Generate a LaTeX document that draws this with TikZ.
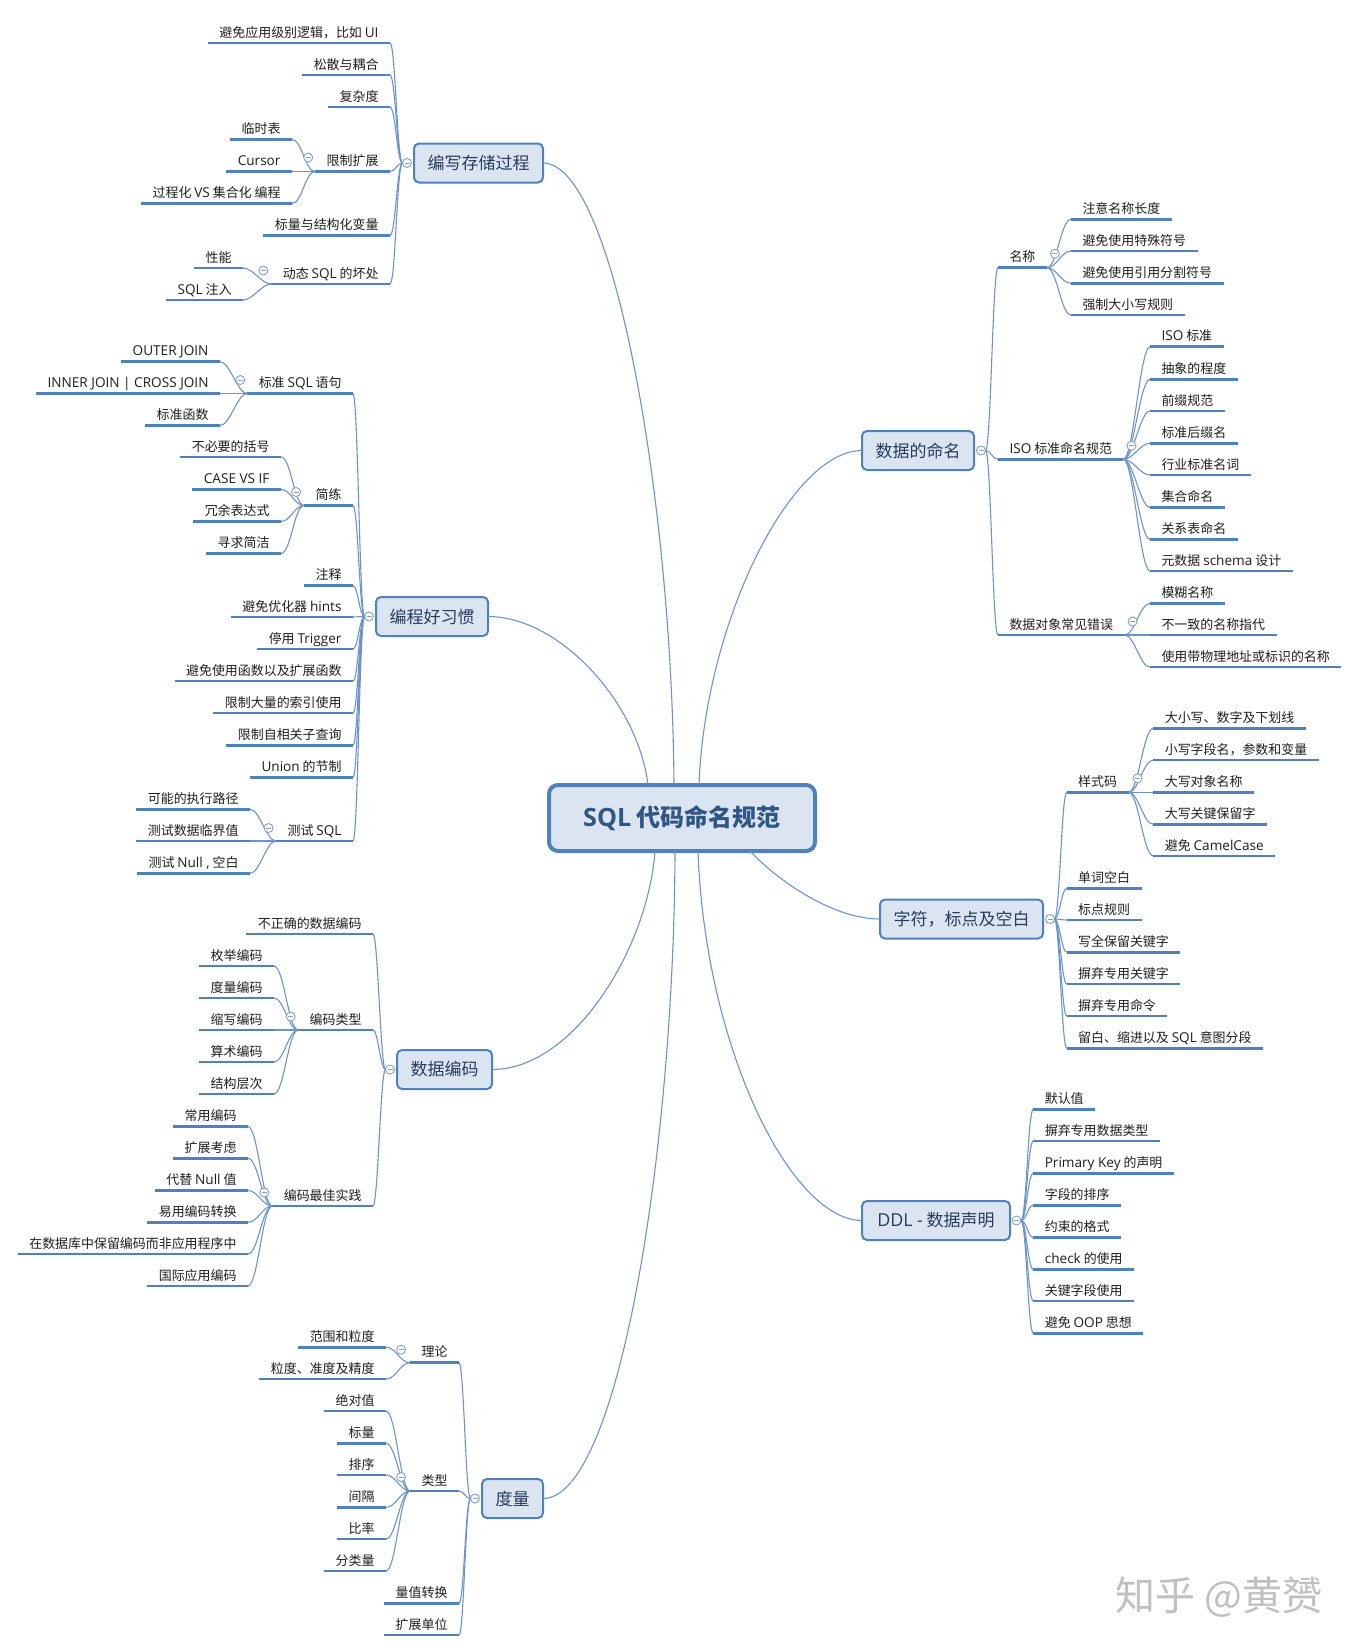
\documentclass[tikz,border=0pt]{standalone}
\usepackage{fontspec}
\setmainfont{Noto Sans CJK SC}
\newfontfamily\lat{Open Sans}[Scale=1.05]
\usetikzlibrary{calc}

\definecolor{lineblue}{RGB}{79,129,189}
\definecolor{connblue}{RGB}{108,148,203}
\definecolor{boxfill}{RGB}{219,229,241}
\definecolor{topictext}{RGB}{40,60,90}
\definecolor{centraltext}{RGB}{48,86,134}
\definecolor{togcol}{RGB}{135,160,200}
\definecolor{subtext}{RGB}{30,30,30}
\definecolor{wmgray}{RGB}{192,192,192}

\tikzset{
  sub/.style={font=\fontsize{12.95}{15}\selectfont, text=subtext, inner xsep=11.5,
    inner ysep=3, text height=9.5, text depth=3, outer sep=0},
  subl/.style={sub, anchor=south east},
  subr/.style={sub, anchor=south west},
  uline/.style={draw=lineblue, line width=2.6},
  conn/.style={draw=connblue, line width=1.1},
  topic/.style={draw=lineblue, line width=2, fill=boxfill, rounded corners=5,
    text=topictext, font=\fontsize{17}{20}\selectfont, minimum height=39,
    inner sep=0, outer sep=0},
  central/.style={draw=lineblue, line width=4, fill=boxfill, rounded corners=9,
    text=centraltext, font=\fontsize{24}{28}\selectfont\bfseries,
    minimum width=266, minimum height=66, inner sep=0, outer sep=0},
  tog/.style={circle, draw=togcol, line width=0.9, fill=white, minimum size=9,
    inner sep=0, outer sep=0,
    path picture={\draw[togcol, line width=0.9]
      ([xshift=-2.5pt]path picture bounding box.center) --
      ([xshift=2.5pt]path picture bounding box.center);}},
}

% underlined subtopic, text to the left / to the right of the given underline end
\newcommand\LItem[4]{\node[subl] (#1) at (#2,#3) {#4};
  \draw[uline] (#1.south west) -- (#1.south east);}
\newcommand\RItem[4]{\node[subr] (#1) at (#2,#3) {#4};
  \draw[uline] (#1.south west) -- (#1.south east);}
% bracket-shaped connectors from a parent point to a list of children
\newcommand\LConn[3]{\foreach \ch in {#3}
  \draw[conn] (#1) .. controls +(-#2,0) and +(#2,0) .. (\ch.south east);}
\newcommand\RConn[3]{\foreach \ch in {#3}
  \draw[conn] (#1) .. controls +(#2,0) and +(-#2,0) .. (\ch.south west);}

\begin{document}
\begin{tikzpicture}[x=1pt, y=-1pt]
\fill[white] (0,0) rectangle (1359,1652);
\useasboundingbox (0,0) rectangle (1359,1652);

% central topic and main topics
\node[central] (c) at (682,818) {{\lat SQL} 代码命名规范};
\node[topic, minimum width=129] (b1) at (478.5,163) {编写存储过程};
\node[topic, minimum width=112] (b2) at (432,616.5) {编程好习惯};
\node[topic, minimum width=95]  (b3) at (444.5,1069.5) {数据编码};
\node[topic, minimum width=61]  (b4) at (512.5,1498.5) {度量};
\node[topic, minimum width=112] (b5) at (918,450.5) {数据的命名};
\node[topic, minimum width=163] (b6) at (961.5,919) {字符，标点及空白};
\node[topic, minimum width=148] (b7) at (936,1220.5) {{\lat DDL -} 数据声明};

% central connectors
\draw[conn] ([xshift=-34]c.north) .. controls +(-10,-83) and +(71,0) .. (b2.east);
\draw[conn] ([xshift=-8]c.north) .. controls +(-2,-283) and +(71,0) .. (b1.east);
\draw[conn] ([xshift=17]c.north) .. controls +(6,-163) and +(-71,0) .. (b5.west);
\draw[conn] ([xshift=-27]c.south) .. controls +(-7,97) and +(82,0) .. (b3.east);
\draw[conn] ([xshift=-7]c.south) .. controls +(-1,297) and +(76,0) .. (b4.east);
\draw[conn] ([xshift=16]c.south) .. controls +(7,197) and +(-71,0) .. (b7.west);
\draw[conn] ([xshift=68]c.south) .. controls +(25,27) and +(-49,0) .. (b6.west);

% 编写存储过程
\LItem{n11}{390}{43}{避免应用级别逻辑，比如 {\lat UI}}
\LItem{n12}{390}{75}{松散与耦合}
\LItem{n13}{390}{107}{复杂度}
\LItem{n14}{390}{171.5}{限制扩展}
\LItem{n141}{292}{139.5}{临时表}
\LItem{n142}{292}{171.5}{{\lat Cursor}}
\LItem{n143}{292}{203.5}{过程化 {\lat VS} 集合化 编程}
\LItem{n15}{390}{235.5}{标量与结构化变量}
\LItem{n16}{390}{284}{动态 {\lat SQL} 的坏处}
\LItem{n161}{243}{268}{性能}
\LItem{n162}{243}{300}{{\lat SQL} 注入}

% 编程好习惯
\LItem{n21}{353}{393.5}{标准 {\lat SQL} 语句}
\LItem{n211}{220}{361.7}{{\lat OUTER JOIN}}
\LItem{n212}{220}{393.5}{{\lat INNER JOIN | CROSS JOIN}}
\LItem{n213}{220}{425.5}{标准函数}
\LItem{n22}{353}{505.5}{简练}
\LItem{n221}{281}{457}{不必要的括号}
\LItem{n222}{281}{489.5}{{\lat CASE VS IF}}
\LItem{n223}{281}{521.5}{冗余表达式}
\LItem{n224}{281}{553.5}{寻求简洁}
\LItem{n23}{353}{585.7}{注释}
\LItem{n24}{353}{617}{避免优化器 {\lat hints}}
\LItem{n25}{353}{649}{停用 {\lat Trigger}}
\LItem{n26}{353}{681}{避免使用函数以及扩展函数}
\LItem{n27}{353}{713}{限制大量的索引使用}
\LItem{n28}{353}{745.3}{限制自相关子查询}
\LItem{n29}{353}{777.3}{{\lat Union} 的节制}
\LItem{n2a}{353}{841}{测试 {\lat SQL}}
\LItem{n2a1}{250}{809.3}{可能的执行路径}
\LItem{n2a2}{250}{841}{测试数据临界值}
\LItem{n2a3}{250}{873.3}{测试 {\lat Null ,} 空白}

% 数据编码
\LItem{n31}{373}{934}{不正确的数据编码}
\LItem{n32}{373}{1030}{编码类型}
\LItem{n321}{274}{966}{枚举编码}
\LItem{n322}{274}{998}{度量编码}
\LItem{n323}{274}{1030}{缩写编码}
\LItem{n324}{274}{1062}{算术编码}
\LItem{n325}{274}{1094}{结构层次}
\LItem{n33}{373}{1206}{编码最佳实践}
\LItem{n331}{248}{1126.5}{常用编码}
\LItem{n332}{248}{1158.3}{扩展考虑}
\LItem{n333}{248}{1190.5}{代替 {\lat Null} 值}
\LItem{n334}{248}{1222.3}{易用编码转换}
\LItem{n335}{248}{1254}{在数据库中保留编码而非应用程序中}
\LItem{n336}{248}{1286}{国际应用编码}

% 度量
\LItem{n41}{459}{1362.7}{理论}
\LItem{n411}{386}{1347.3}{范围和粒度}
\LItem{n412}{386}{1379}{粒度、准度及精度}
\LItem{n42}{459}{1491}{类型}
\LItem{n421}{386}{1411}{绝对值}
\LItem{n422}{386}{1443.3}{标量}
\LItem{n423}{386}{1475}{排序}
\LItem{n424}{386}{1507.3}{间隔}
\LItem{n425}{386}{1539}{比率}
\LItem{n426}{386}{1571}{分类量}
\LItem{n43}{459}{1603.3}{量值转换}
\LItem{n44}{459}{1635}{扩展单位}

% 数据的命名
\RItem{n51}{998}{267.7}{名称}
\RItem{n511}{1071}{219.3}{注意名称长度}
\RItem{n512}{1071}{251}{避免使用特殊符号}
\RItem{n513}{1071}{283.3}{避免使用引用分割符号}
\RItem{n514}{1071}{315}{强制大小写规则}
\RItem{n52}{998}{459.3}{{\lat ISO} 标准命名规范}
\RItem{n521}{1150}{346.7}{{\lat ISO} 标准}
\RItem{n522}{1150}{379.3}{抽象的程度}
\RItem{n523}{1150}{411}{前缀规范}
\RItem{n524}{1150}{443.3}{标准后缀名}
\RItem{n525}{1150}{475}{行业标准名词}
\RItem{n526}{1150}{507.3}{集合命名}
\RItem{n527}{1150}{539.3}{关系表命名}
\RItem{n528}{1150}{571}{元数据 {\lat schema} 设计}
\RItem{n53}{998}{635}{数据对象常见错误}
\RItem{n531}{1150}{603.3}{模糊名称}
\RItem{n532}{1150}{635}{不一致的名称指代}
\RItem{n533}{1150}{667}{使用带物理地址或标识的名称}

% 字符，标点及空白
\RItem{n61}{1066.7}{792.3}{样式码}
\RItem{n611}{1153.3}{728.3}{大小写、数字及下划线}
\RItem{n612}{1153.3}{760}{小写字段名，参数和变量}
\RItem{n613}{1153.3}{792.3}{大写对象名称}
\RItem{n614}{1153.3}{824.3}{大写关键保留字}
\RItem{n615}{1153.3}{856}{避免 {\lat CamelCase}}
\RItem{n62}{1066.7}{888.3}{单词空白}
\RItem{n63}{1066.7}{920}{标点规则}
\RItem{n64}{1066.7}{952.3}{写全保留关键字}
\RItem{n65}{1066.7}{984}{摒弃专用关键字}
\RItem{n66}{1066.7}{1016}{摒弃专用命令}
\RItem{n67}{1066.7}{1048.3}{留白、缩进以及 {\lat SQL} 意图分段}

% DDL - 数据声明
\RItem{n71}{1033.3}{1109.3}{默认值}
\RItem{n72}{1033.3}{1141}{摒弃专用数据类型}
\RItem{n73}{1033.3}{1173.3}{{\lat Primary Key} 的声明}
\RItem{n74}{1033.3}{1205.3}{字段的排序}
\RItem{n75}{1033.3}{1237.3}{约束的格式}
\RItem{n76}{1033.3}{1269.3}{{\lat check} 的使用}
\RItem{n77}{1033.3}{1301}{关键字段使用}
\RItem{n78}{1033.3}{1333.3}{避免 {\lat OOP} 思想}

% collapse toggles on the main topics
\node[tog] (t1) at ([xshift=-7]b1.west) {};
\node[tog] (t2) at ([xshift=-7]b2.west) {};
\node[tog] (t3) at ([xshift=-7]b3.west) {};
\node[tog] (t4) at ([xshift=-7]b4.west) {};
\node[tog] (t5) at ([xshift=7]b5.east) {};
\node[tog] (t6) at ([xshift=7]b6.east) {};
\node[tog] (t7) at ([xshift=6.5]b7.east) {};

% branch connectors
\LConn{t1.west}{5.5}{n11,n12,n13,n14,n15,n16}
\LConn{n14.south west}{10}{n141,n142,n143}
\LConn{n16.south west}{10}{n161,n162}
\LConn{t2.west}{5}{n21,n22,n23,n24,n25,n26,n27,n28,n29,n2a}
\LConn{n21.south west}{10}{n211,n212,n213}
\LConn{n22.south west}{10}{n221,n222,n223,n224}
\LConn{n2a.south west}{10}{n2a1,n2a2,n2a3}
\LConn{t3.west}{5}{n31,n32,n33}
\LConn{n32.south west}{10}{n321,n322,n323,n324,n325}
\LConn{n33.south west}{10}{n331,n332,n333,n334,n335,n336}
\LConn{t4.west}{5}{n41,n42,n43,n44}
\LConn{n41.south west}{10}{n411,n412}
\LConn{n42.south west}{10}{n421,n422,n423,n424,n425,n426}
\RConn{t5.east}{5.5}{n51,n52,n53}
\RConn{n51.south east}{10}{n511,n512,n513,n514}
\RConn{n52.south east}{10}{n521,n522,n523,n524,n525,n526,n527,n528}
\RConn{n53.south east}{10}{n531,n532,n533}
\RConn{t6.east}{5}{n61,n62,n63,n64,n65,n66,n67}
\RConn{n61.south east}{10}{n611,n612,n613,n614,n615}
\RConn{t7.east}{5.5}{n71,n72,n73,n74,n75,n76,n77,n78}

% collapse toggles on the subtopics that have children
\node[tog] (s14) at ([xshift=-7,yshift=14]n14.south west) {};
\node[tog] (s16) at ([xshift=-8,yshift=13.5]n16.south west) {};
\node[tog] (s21) at ([xshift=-7,yshift=13.5]n21.south west) {};
\node[tog] (s22) at ([xshift=-8,yshift=13.5]n22.south west) {};
\node[tog] (s2a) at ([xshift=-7.5,yshift=13]n2a.south west) {};
\node[tog] (s32) at ([xshift=-7.5,yshift=13.5]n32.south west) {};
\node[tog] (s33) at ([xshift=-8,yshift=13.5]n33.south west) {};
\node[tog] (s41) at ([xshift=-9,yshift=13]n41.south west) {};
\node[tog] (s42) at ([xshift=-9,yshift=14]n42.south west) {};
\node[tog] (s51) at ([xshift=8,yshift=14]n51.south east) {};
\node[tog] (s52) at ([xshift=8,yshift=13.5]n52.south east) {};
\node[tog] (s53) at ([xshift=8,yshift=13.5]n53.south east) {};
\node[tog] (s61) at ([xshift=9,yshift=14]n61.south east) {};

% watermark
\node[font=\fontsize{40}{44}\selectfont, text=wmgray] (wm) at (1219,1597) {知乎 @黄赟};
\end{tikzpicture}
\end{document}
